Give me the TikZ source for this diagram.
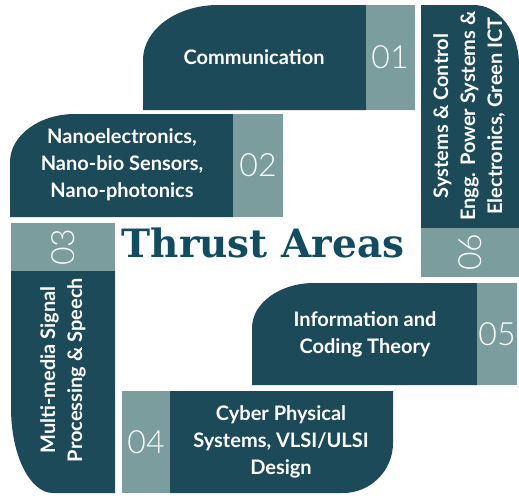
\documentclass[tikz,border=0pt]{standalone}
\usepackage{fontspec}
\setmainfont{Lato}
\newfontfamily\numfont{Lato Light}
\newfontfamily\titlefont{DejaVu Serif}
\definecolor{darkteal}{RGB}{28,74,89}
\definecolor{lightteal}{RGB}{123,157,157}
\definecolor{titleteal}{RGB}{17,76,96}

\begin{document}
\begin{tikzpicture}[x=0.5pt, y=-0.5pt, line join=round, font=\fontsize{10}{13.5}\selectfont\bfseries,
	area/.style={text=white, align=center},
	num/.style={text=white, font=\numfont\fontsize{16}{16}\selectfont}]
	\useasboundingbox (0,0) rectangle (519,495);
	
	\fill[darkteal] (366,110) -- (143,110) -- (143,60) .. controls (143,29.6) and (176.6,5) .. (218,5) -- (366,5) -- cycle;
	\fill[lightteal] (366,5) rectangle (415,110);
	
	\fill[darkteal] (233,217) -- (10,217) -- (10,162) .. controls (10,135.5) and (39.1,114) .. (75,114) -- (233,114) -- cycle;
	\fill[lightteal] (233,114) rectangle (283,217);
	
	\fill[lightteal] (11,223) rectangle (115,271);
	\fill[darkteal] (11,271) -- (115,271) -- (115,493) -- (53,493) .. controls (29.8,493) and (11,454.9) .. (11,408) -- cycle;
	
	\fill[lightteal] (122,391) rectangle (170,493);
	\fill[darkteal] (170,391) -- (393,391) -- (393,443) .. controls (393,470.6) and (370.6,493) .. (343,493) -- (170,493) -- cycle;
	
	\fill[darkteal] (477,385) -- (252,385) -- (252,328) .. controls (252,303.1) and (279.8,283) .. (314,283) -- (477,283) -- cycle;
	\fill[lightteal] (477,283) rectangle (517,385);
	
	\fill[darkteal] (421,228) -- (421,5) -- (474,5) .. controls (498.9,5) and (519,31.9) .. (519,65) -- (519,228) -- cycle;
	\fill[lightteal] (421,228) rectangle (519,277);
	
	\node[area] (comm) at (254,57) {Communication};
	\node[num] (n01) at (390,57) {01};
	\node[area] (nano) at (122,165) {Nanoelectronics,\\Nano-bio Sensors,\\Nano-photonics};
	\node[num] (n02) at (258,165) {02};
	\node[num, rotate=90] (n03) at (63,247) {03};
	\node[area, rotate=90] (media) at (63,370) {Multi-media Signal\\Processing \& Speech};
	\node[num] (n04) at (146,442) {04};
	\node[area] (cyber) at (281,442) {Cyber Physical\\Systems, VLSI/ULSI\\Design};
	\node[area] (info) at (365,334) {Information and\\Coding Theory};
	\node[num] (n05) at (497,334) {05};
	\node[area, rotate=90] (ctrl) at (469,116) {Systems \& Control\\Engg. Power Systems \&\\Electronics, Green ICT};
	\node[num, rotate=90] (n06) at (470,252) {06};
	\node[text=titleteal, font=\titlefont\bfseries\fontsize{19.5}{21}\selectfont] (title) at (263,243) {Thrust Areas};
\end{tikzpicture}
\end{document}
